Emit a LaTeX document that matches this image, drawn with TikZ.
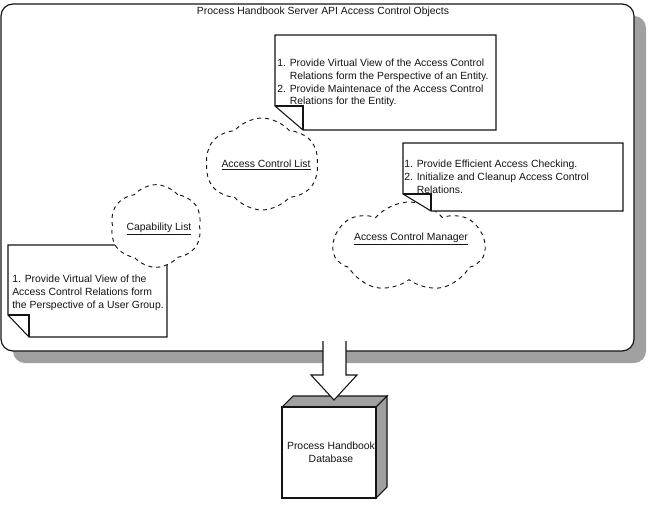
\documentclass[tikz,border=0pt]{standalone}
\usepackage{fontspec}
\setmainfont{Liberation Sans}
\usetikzlibrary{shapes.symbols}
\definecolor{shadowgray}{RGB}{160,160,160}
\definecolor{ink}{RGB}{20,20,20}
\begin{document}
\begin{tikzpicture}[x=0.75pt,y=-0.75pt,
  txt/.style={font=\fontsize{7.8}{9.45}\selectfont, inner sep=0pt, text=ink},
  notebox/.style={draw=ink, line width=0.8pt, fill=white},
  foldline/.style={draw=ink, line width=0.8pt},
  puff/.style={cloud, cloud puffs=6, cloud puff arc=100, cloud ignores aspect, draw=ink, dash pattern=on 3pt off 3pt, line width=0.7pt, fill=white, inner sep=0pt},
  outline/.style={draw=ink, line width=0.8pt}]
\useasboundingbox (0,0) rectangle (648,513);
% frame with shadow
\fill[shadowgray, rounded corners=9pt] (13,16) rectangle (646,363);
\draw[outline, line width=0.9pt, fill=white, rounded corners=9pt] (1,4) rectangle (634,351);
\node[txt] (title) at (323,12) {Process Handbook Server API Access Control Objects};
% note 3 (user group)
\draw[notebox] (8,245) -- (167,245) -- (167,337) -- (29,337) -- (8,315) -- cycle;
\draw[foldline] (8,315) -- (29,315) -- (29,337);
\node[txt, align=left, anchor=north west] (t3) at (12,275) {1. Provide Virtual View of the\\Access Control Relations form\\the Perspective of a User Group.};
% capability list cloud
\node[puff, minimum width=69pt, minimum height=62pt] (capc) at (156,226) {};
\node[txt] (capl) at (159,229) {\underline{Capability List}};
% access control list cloud
\node[puff, minimum width=85pt, minimum height=69pt] (aclc) at (262,164) {};
\node[txt] (acll) at (266,165) {\underline{Access Control List}};
% note 1 (entity)
\draw[notebox] (275,35) -- (496,35) -- (496,130) -- (303,130) -- (275,106) -- cycle;
\draw[foldline] (275,106) -- (303,106) -- (303,130);
\node[txt, align=left, anchor=north west] (t1) at (277,59) {1. Provide Virtual View of the Access Control\\\hphantom{1. }Relations form the Perspective of an Entity.\\2. Provide Maintenace of the Access Control\\\hphantom{2. }Relations for the Entity.};
% access control manager cloud
\node[puff, cloud puffs=7, minimum width=114pt, minimum height=67.5pt] (acmc) at (409,247) {};
\node[txt] (acml) at (411,239) {\underline{Access Control Manager}};
% note 2 (checking)
\draw[notebox] (403,143) -- (623,143) -- (623,211) -- (431,211) -- (403,194) -- cycle;
\draw[foldline] (403,194) -- (431,194) -- (431,211);
\node[txt, align=left, anchor=north west] (t2) at (404,160) {1. Provide Efficient Access Checking.\\2. Initialize and Cleanup Access Control\\\hphantom{2. }Relations.};
% database box
\draw[outline, fill=shadowgray] (282,407) -- (293,396) -- (387,396) -- (376,407) -- cycle;
\draw[outline, fill=shadowgray] (376,407) -- (387,396) -- (387,487) -- (376,498) -- cycle;
\draw[outline, fill=white] (282,407) rectangle (376,498);
\node[txt, align=center] (dbl) at (331,452) {Process Handbook\\Database};
% block arrow
\fill[white] (323,341) -- (323,375) -- (311,375) -- (334,400) -- (357,375) -- (346,375) -- (346,341) -- cycle;
\draw[outline] (323,341) -- (323,375) -- (311,375) -- (334,400) -- (357,375) -- (346,375) -- (346,341);
\end{tikzpicture}
\end{document}
